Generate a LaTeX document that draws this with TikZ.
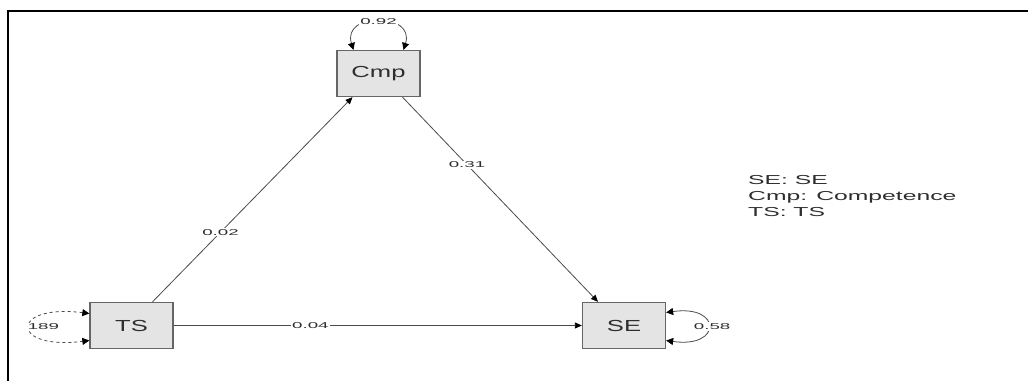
\documentclass[tikz,border=0pt]{standalone}
\usepackage{fontspec}
\setmainfont{Liberation Sans}
\newfontfamily\boxfont[FakeStretch=1.6]{Liberation Sans}
\newfontfamily\legfont[FakeStretch=1.9]{Liberation Sans}
\newfontfamily\labfont[FakeStretch=2.2]{Liberation Sans}
\usetikzlibrary{arrows.meta}
\definecolor{boxfill}{HTML}{E4E4E4}
\definecolor{boxline}{HTML}{666666}
\definecolor{txt}{HTML}{2E2E2E}
\definecolor{edgec}{HTML}{4A4A4A}
\begin{document}
\begin{tikzpicture}[x=1pt,y=-1pt,
  var/.style={draw=boxline, fill=boxfill, line width=1.3pt, minimum width=83pt,
    minimum height=46pt, inner sep=0pt, text=txt,
    font=\boxfont\fontsize{16}{18}\selectfont},
  pathedge/.style={draw=edgec, line width=0.8pt, -{Triangle[length=7pt,width=6pt,color=black]}},
  loopedge/.style={draw=edgec, line width=0.8pt,
    {Triangle[length=7pt,width=7pt,color=black]}-{Triangle[length=7pt,width=7pt,color=black]}},
  lbl/.style={fill=white, inner sep=1pt, text=txt,
    font=\labfont\fontsize{8.5}{10}\selectfont},
  legendtext/.style={align=left, inner sep=0pt, text=txt,
    font=\legfont\fontsize{13}{16}\selectfont}]
\useasboundingbox (0,0) rectangle (1028,381);
\draw[line width=2pt] (8,381) -- (8,11) -- (1028,11);

\node[var] (cmp) at (378.5,73.5) {Cmp};
\node[var] (ts) at (131.5,325.5) {TS};
\node[var] (se) at (624,325.5) {SE};

\draw[pathedge] ([xshift=21pt]ts.north) -- node[lbl,pos=0.34] (l1) {0.02} ([xshift=-26pt]cmp.south);
\draw[pathedge] ([xshift=24pt]cmp.south) -- node[lbl,pos=0.33] (l2) {0.31} ([xshift=-26pt]se.north);
\draw[pathedge] (ts.east) -- node[lbl,pos=0.335] (l3) {0.04} (se.west);

\draw[loopedge] ([xshift=-25pt]cmp.north) .. controls +(-12,-38) and +(12,-38) .. node[lbl,pos=0.5] (l4) {0.92} ([xshift=25pt]cmp.north);
\draw[loopedge, dashed] ([yshift=12pt]ts.west) .. controls +(-80,-10) and +(-80,10) .. node[lbl,pos=0.5,anchor=west,xshift=-3pt] (l5) {189} ([yshift=-15pt]ts.west);
\draw[loopedge] ([yshift=13pt]se.east) .. controls +(56,-8) and +(56,8) .. node[lbl,pos=0.5,xshift=4pt] (l6) {0.58} ([yshift=-15pt]se.east);

\node[legendtext, anchor=north west] (legend) at (748,175) {SE: SE\\Cmp: Competence\\TS: TS};
\end{tikzpicture}
\end{document}
